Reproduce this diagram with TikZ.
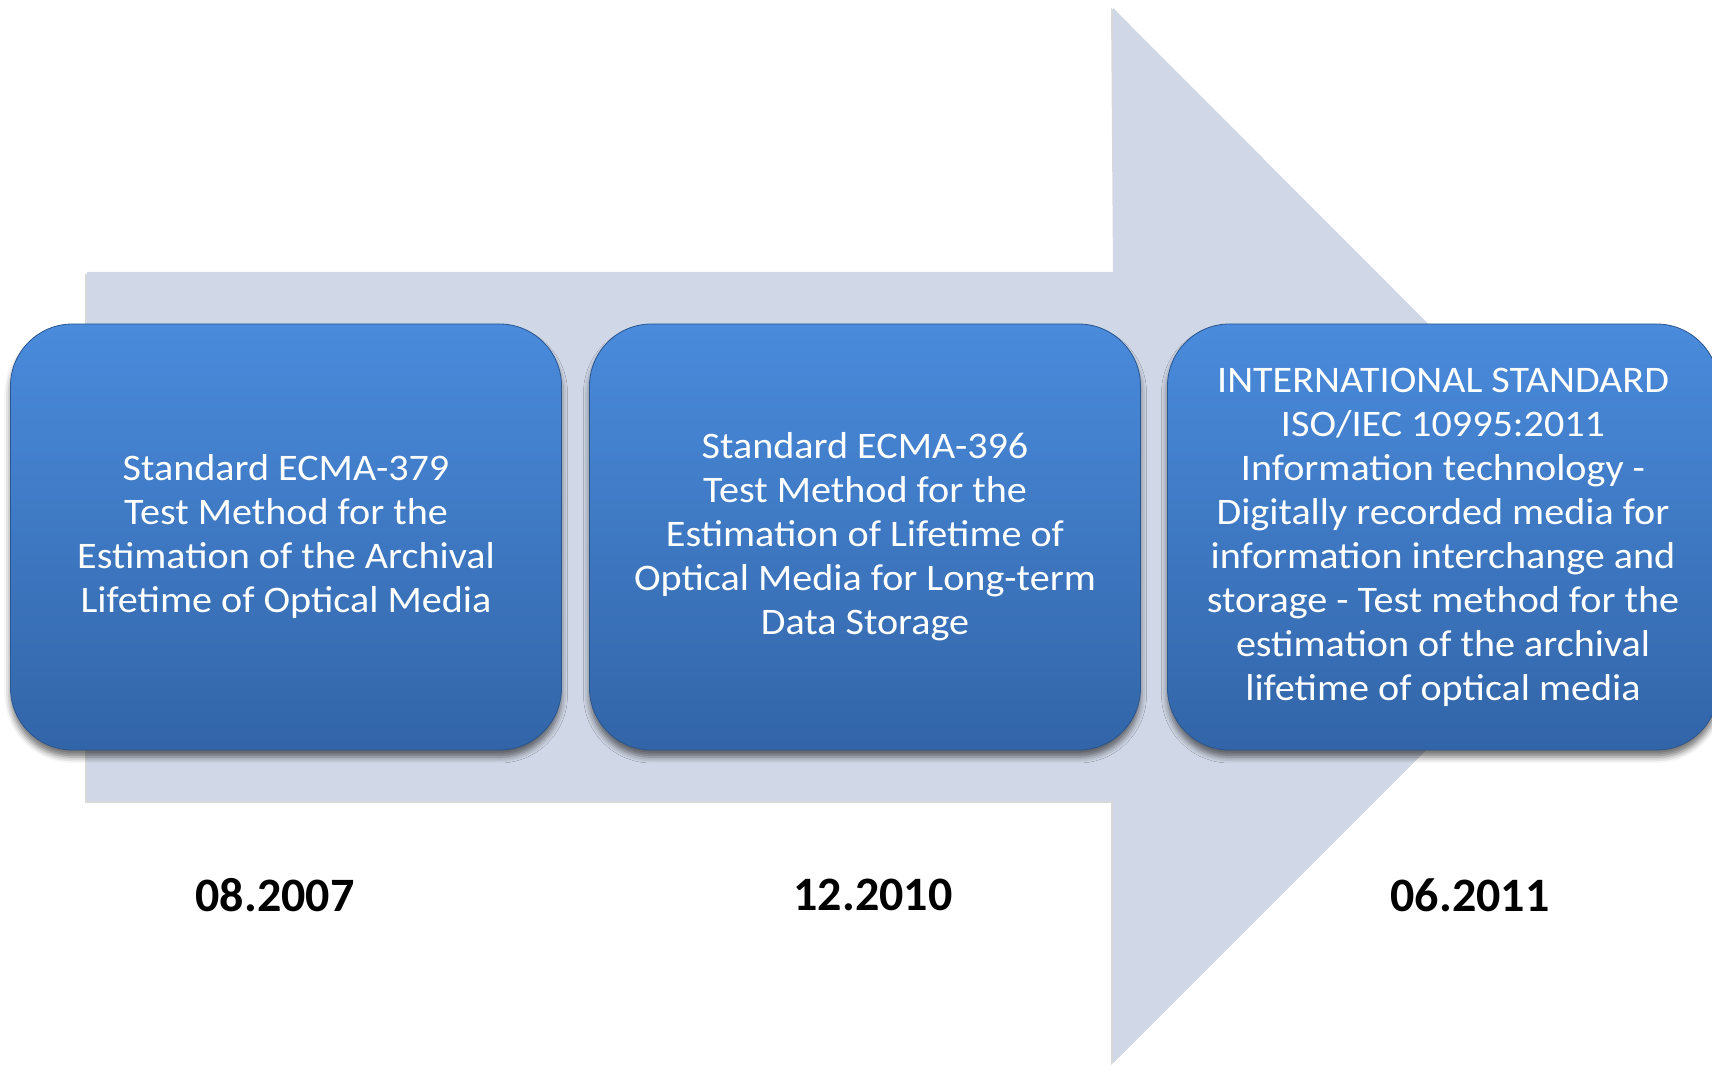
\documentclass[tikz,border=0pt]{standalone}
\usepackage{fontspec}
\setmainfont{Carlito}
\newfontfamily\boxfont[FakeStretch=1.07]{Carlito}
\usetikzlibrary{shadows.blur}
\definecolor{arrowfill}{RGB}{208,215,230}
\definecolor{boxtop}{RGB}{74,139,220}
\definecolor{boxbot}{RGB}{50,101,168}
\tikzset{
  stdbox/.style={rectangle, rounded corners=62pt, minimum width=551pt,
                 minimum height=426pt, top color=boxtop, bottom color=boxbot,
                 draw=boxbot!85!black, line width=0.8pt, text=white, align=center,
                 font=\boxfont\fontsize{37.5}{44}\selectfont, inner sep=0pt,
                 blur shadow={shadow xshift=0pt, shadow yshift=-7pt,
                              shadow blur radius=6pt, shadow opacity=55}},
  datelbl/.style={font=\fontsize{48}{58}\selectfont\bfseries, text=black, inner sep=0pt},
}

\begin{document}
\begin{tikzpicture}[x=1pt, y=1pt]
\useasboundingbox (0,0) rectangle (1712,1067);
% the big timeline arrow in the back
\coordinate (a1) at (87,795);
\coordinate (a2) at (1113,795);
\coordinate (a3) at (1113,1059);
\coordinate (tip) at (1640,531);
\coordinate (a4) at (1113,4);
\coordinate (a5) at (1113,266);
\coordinate (a6) at (87,266);
\fill[black!30, opacity=0.5] ([xshift=-2pt,yshift=-2pt]a1) -- ([yshift=-2pt]a2) -- ([xshift=-2pt]a3)
  -- (tip) -- ([xshift=-2pt,yshift=-2pt]a4) -- ([xshift=-2pt,yshift=-2pt]a5) -- ([xshift=-2pt,yshift=-2pt]a6) -- cycle;
\fill[arrowfill] (a1) -- (a2) -- (a3) -- (tip) -- (a4) -- (a5) -- (a6) -- cycle;

\node[stdbox] (ecma379) at (286,530) {Standard ECMA-379\\Test Method for the\\Estimation of the Archival\\Lifetime of Optical Media};
\node[stdbox] (ecma396) at (865,530) {Standard ECMA-396\\Test Method for the\\Estimation of Lifetime of\\Optical Media for Long-term\\Data Storage};
\node[stdbox] (iso10995) at (1443,530) {INTERNATIONAL STANDARD\\ISO/IEC 10995:2011\\Information technology -\\Digitally recorded media for\\information interchange and\\storage - Test method for the\\estimation of the archival\\lifetime of optical media};

\node[datelbl] (d1) at (275,172) {08.2007};
\node[datelbl] (d2) at (873,172) {12.2010};
\node[datelbl] (d3) at (1470,172) {06.2011};
\end{tikzpicture}
\end{document}
